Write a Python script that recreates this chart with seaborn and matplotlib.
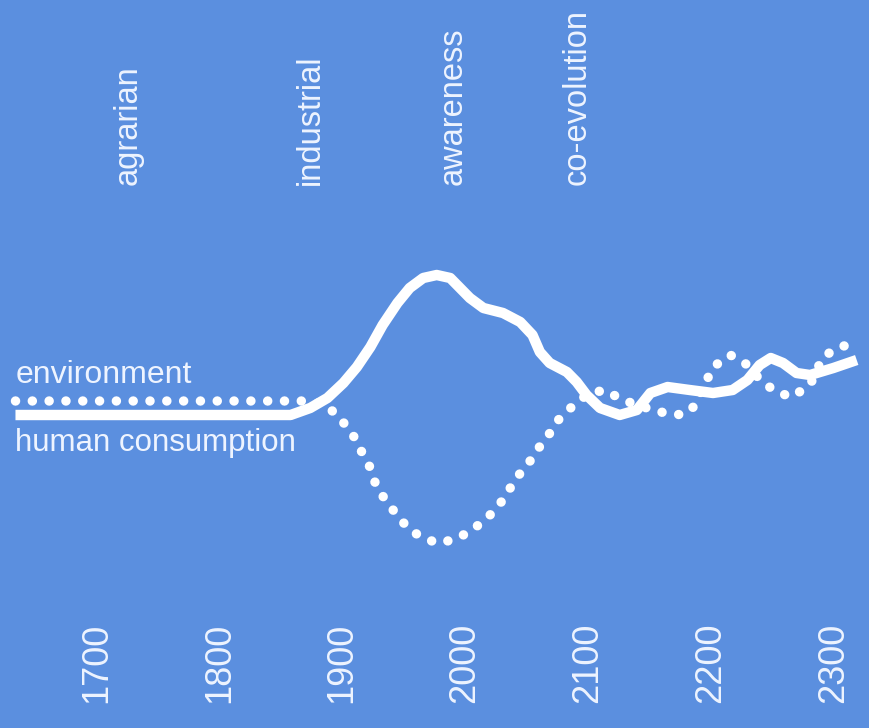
import numpy as np
import pandas as pd
import matplotlib
matplotlib.use("Agg")
import matplotlib.pyplot as plt
import seaborn as sns

# values (year, level)
human_year = [1634, 1858, 1874, 1888, 1901, 1912, 1923, 1933, 1945, 1955, 1966, 1977,
              1988, 1996, 2004, 2015, 2031, 2045, 2055, 2061, 2069, 2083, 2091, 2099,
              2110, 2126, 2140, 2151, 2165, 2183, 2202, 2218, 2230, 2240, 2249, 2259,
              2270, 2281, 2300, 2319]
human_level = [0, 0, 7, 17, 32, 48, 68, 90, 112, 127, 137, 140,
               137, 127, 117, 107, 102, 93, 80, 63, 52, 43, 33, 20,
               7, 0, 5, 22, 28, 25, 22, 25, 35, 50, 57, 52,
               42, 40, 47, 55]

env_year = [1634, 1874, 1886, 1896, 1908, 1916, 1923, 1928, 1937, 1946, 1955, 1965,
            1977, 1990, 2002, 2011, 2019, 2026, 2033, 2039, 2047, 2055, 2060, 2067,
            2076, 2086, 2099, 2113, 2129, 2140, 2159, 2177, 2186, 2197, 2202, 2216,
            2228, 2242, 2254, 2266, 2281, 2291, 2300, 2315]
env_level = [14, 14, 10, 0, -18, -37, -53, -72, -88, -102, -115, -122,
             -128, -125, -118, -110, -102, -92, -82, -68, -55, -43, -33, -22,
             -5, 7, 20, 25, 15, 10, 3, 0, 8, 35, 48, 60,
             52, 33, 23, 18, 30, 57, 65, 72]

era_labels = ["agrarian", "industrial", "awareness", "co-evolution"]
era_year = [1726, 1874, 1990, 2091]

year_ticks = [1700, 1800, 1900, 2000, 2100, 2200, 2300]

bg = "#5b8fdf"
txt = "#eef4ff"

sns.set_theme(style="white")
plt.rcParams['font.family'] = ['Liberation Sans', 'DejaVu Sans']

fig = plt.figure(figsize=(8.69, 7.28), dpi=100)
fig.patch.set_facecolor(bg)
ax = fig.add_axes([0, 0, 1, 1])
ax.set_facecolor(bg)

human = pd.DataFrame({"year": human_year, "level": human_level})
env = pd.DataFrame({"year": env_year, "level": env_level})

sns.lineplot(data=human, x="year", y="level", ax=ax, color="white", lw=7.5,
             sort=False, solid_capstyle="butt", solid_joinstyle="round")
sns.lineplot(data=env, x="year", y="level", ax=ax, color="white", lw=6.8, sort=False)
dots = ax.lines[-1]
dots.set_linestyle((0, (0.01, 1.77)))
dots.set_dash_capstyle("round")

ax.set_xlim(1621.4, 2329.0)
ax.set_ylim(-313, 415)

# era names at the top
for lab, yr in zip(era_labels, era_year):
    ax.text(yr, 230, lab, rotation=90, ha="center", va="bottom",
            fontsize=23.5, color=txt)

# year labels at the bottom
for yr in year_ticks:
    ax.text(yr, -288, str(yr), rotation=90, ha="center", va="bottom",
            fontsize=26, color=txt)

ax.text(1634, 32, "environment", ha="left", va="baseline", fontsize=23, color=txt)
ax.text(1634, -36, "human consumption", ha="left", va="baseline", fontsize=22.5, color=txt)

ax.set_axis_off()
fig.savefig("out.png", dpi=100, facecolor=bg)
